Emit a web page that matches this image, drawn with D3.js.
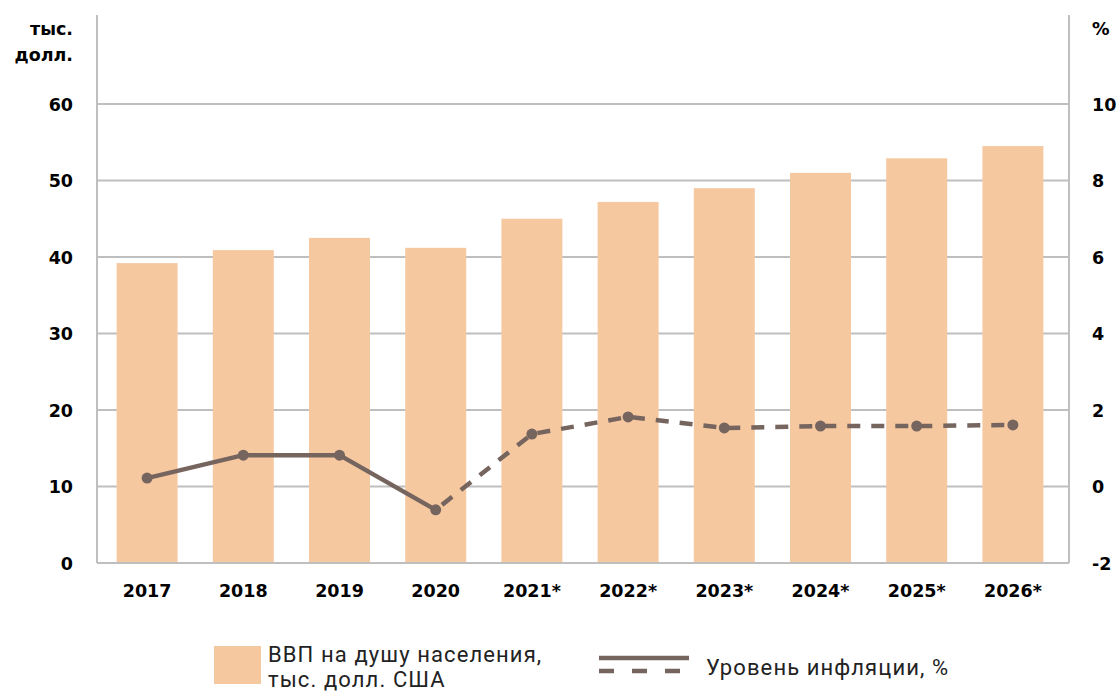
<!DOCTYPE html>
<html><head><meta charset="utf-8">
<script src="https://cdn.jsdelivr.net/npm/d3@7"></script>
<style>
body{margin:0;background:#fff;}
svg{display:block;}
.tick-b{font-family:"DejaVu Sans",sans-serif;font-weight:700;font-size:17.5px;fill:#000;}
.leg{font-family:"Roboto","Open Sans",sans-serif;font-size:22px;letter-spacing:1.1px;fill:#222;}
</style></head>
<body>
<svg id="c" width="1117" height="693"></svg>
<script>
const years = ["2017","2018","2019","2020","2021*","2022*","2023*","2024*","2025*","2026*"];
const gdp = [39.2, 40.9, 42.5, 41.2, 45.0, 47.2, 49.0, 51.0, 52.9, 54.5];
const inflation = [0.22, 0.82, 0.82, -0.61, 1.37, 1.82, 1.53, 1.58, 1.58, 1.61];
const leftTicks = [0,10,20,30,40,50,60];
const rightTicks = [-2,0,2,4,6,8,10];
const solidUntil = 3; // index of 2020

const svg = d3.select("#c");
const barColor = "#f6c8a0", lineColor = "#76655e", gridColor = "#bfbfbf";
const x0 = 97, x1 = 1069, yTop = 15, yBot = 563;

const x = d3.scaleBand().domain(years).range([99, 1061]).paddingInner(0.366).paddingOuter(0.183);
const yL = d3.scaleLinear().domain([0,60]).range([yBot, 104]);
const yR = d3.scaleLinear().domain([-2,10]).range([yBot, 104]);

// gridlines
svg.append("g").selectAll("line").data(leftTicks.filter(d=>d>0)).join("line")
  .attr("x1",x0).attr("x2",x1).attr("y1",d=>yL(d)).attr("y2",d=>yL(d))
  .attr("stroke",gridColor).attr("stroke-width",2);

// bars
svg.append("g").selectAll("rect").data(gdp).join("rect")
  .attr("x",(d,i)=>x(years[i])).attr("width",x.bandwidth())
  .attr("y",d=>yL(d)).attr("height",d=>yBot-yL(d)).attr("fill",barColor);

// axis lines
svg.append("line").attr("x1",x0).attr("x2",x0).attr("y1",yTop).attr("y2",yBot).attr("stroke",gridColor).attr("stroke-width",2);
svg.append("line").attr("x1",x1).attr("x2",x1).attr("y1",yTop).attr("y2",yBot).attr("stroke",gridColor).attr("stroke-width",2);
svg.append("line").attr("x1",x0).attr("x2",x1).attr("y1",yBot).attr("y2",yBot).attr("stroke",gridColor).attr("stroke-width",2);

// left axis labels
const la = svg.append("g").attr("transform","translate(73,0)")
  .call(d3.axisLeft(yL).tickValues(leftTicks).tickFormat(d=>String(d)).tickSize(0).tickPadding(0));
la.select(".domain").remove();
la.selectAll("text").attr("class","tick-b").attr("dy","0.35em");
// right axis labels
const ra = svg.append("g").attr("transform","translate(1092,0)")
  .call(d3.axisRight(yR).tickValues(rightTicks).tickFormat(d=>String(d)).tickSize(0).tickPadding(0));
ra.select(".domain").remove();
ra.selectAll("text").attr("class","tick-b").attr("dy","0.35em");
// x axis labels
const xa = svg.append("g").attr("transform","translate(0,585)")
  .call(d3.axisBottom(x).tickSize(0).tickPadding(0));
xa.select(".domain").remove();
xa.selectAll("text").attr("class","tick-b").attr("dy","0.71em");

// axis titles
svg.append("text").attr("class","tick-b").attr("x",73).attr("y",35).attr("text-anchor","end").text("тыс.");
svg.append("text").attr("class","tick-b").attr("x",73).attr("y",61).attr("text-anchor","end").text("долл.");
svg.append("text").attr("class","tick-b").attr("x",1092).attr("y",35).text("%");

// line
const pts = inflation.map((v,i)=>[x(years[i])+x.bandwidth()/2, yR(v)]);
const line = d3.line();
svg.append("path").attr("d",line(pts.slice(0,solidUntil+1))).attr("fill","none")
  .attr("stroke",lineColor).attr("stroke-width",4.5).attr("stroke-linejoin","round");
svg.append("path").attr("d",line(pts.slice(solidUntil))).attr("fill","none")
  .attr("stroke",lineColor).attr("stroke-width",4.5).attr("stroke-dasharray","13,11").attr("stroke-dashoffset",-8);
svg.append("g").selectAll("circle").data(pts).join("circle")
  .attr("cx",d=>d[0]).attr("cy",d=>d[1]).attr("r",5.5).attr("fill",lineColor);

// legend
svg.append("rect").attr("x",214).attr("y",646).attr("width",47).attr("height",38).attr("fill",barColor);
svg.append("text").attr("class","leg").attr("x",268).attr("y",662).text("ВВП на душу населения,");
svg.append("text").attr("class","leg").attr("x",268).attr("y",687).text("тыс. долл. США");
svg.append("line").attr("x1",599).attr("x2",689).attr("y1",658).attr("y2",658).attr("stroke",lineColor).attr("stroke-width",4.5);
svg.append("line").attr("x1",599).attr("x2",689).attr("y1",671).attr("y2",671).attr("stroke",lineColor).attr("stroke-width",4.5).attr("stroke-dasharray","15,18");
svg.append("text").attr("class","leg").attr("x",706).attr("y",675).text("Уровень инфляции, %");
</script>
</body></html>
